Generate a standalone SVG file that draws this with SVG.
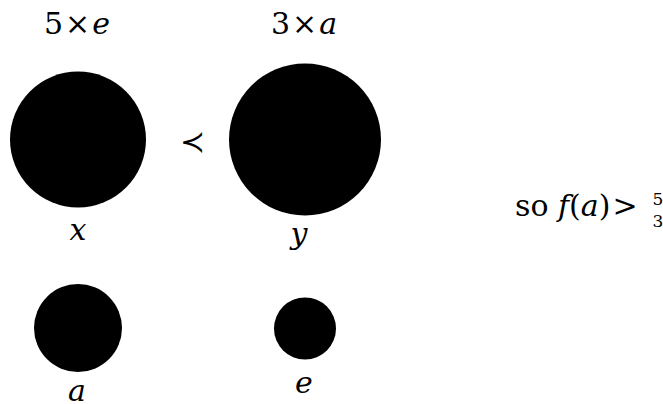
<svg xmlns="http://www.w3.org/2000/svg" width="663" height="404" viewBox="0 0 663 404">
<style>
text{font-size:30px;fill:#000}
.i{font-style:italic}
.dot{fill:#000}
.fr{font-size:17px}
</style>
<rect width="663" height="404" fill="#fff"/>
<g font-family="'DejaVu Serif', serif">
<g id="x"><circle class="dot" cx="78" cy="139.5" r="68"/><text x="78" y="240" text-anchor="middle" class="i">x</text><text x="77" y="34" text-anchor="middle">5<tspan dx="2">×</tspan><tspan dx="2" class="i">e</tspan></text></g>
<g id="y"><circle class="dot" cx="305" cy="139.5" r="76"/><text x="299" y="244" text-anchor="middle" class="i">y</text><text x="304" y="34" text-anchor="middle">3<tspan dx="2">×</tspan><tspan dx="2" class="i">a</tspan></text></g>
<g id="a"><circle class="dot" cx="78" cy="328" r="44"/><text x="77" y="401" text-anchor="middle" class="i">a</text></g>
<g id="e"><circle class="dot" cx="305" cy="328.5" r="31"/><text x="304" y="393" text-anchor="middle" class="i">e</text></g>
<g id="connectors"><text x="192" y="152" text-anchor="middle" font-size="34">≺</text></g>
<g id="note"><text x="515" y="216">so <tspan class="i">f</tspan>(<tspan class="i">a</tspan>)<tspan dx="2">&gt;</tspan></text>
<text class="fr" x="658" y="205" text-anchor="middle">5</text><text class="fr" x="658" y="227" text-anchor="middle">3</text></g>
</g>
</svg>
